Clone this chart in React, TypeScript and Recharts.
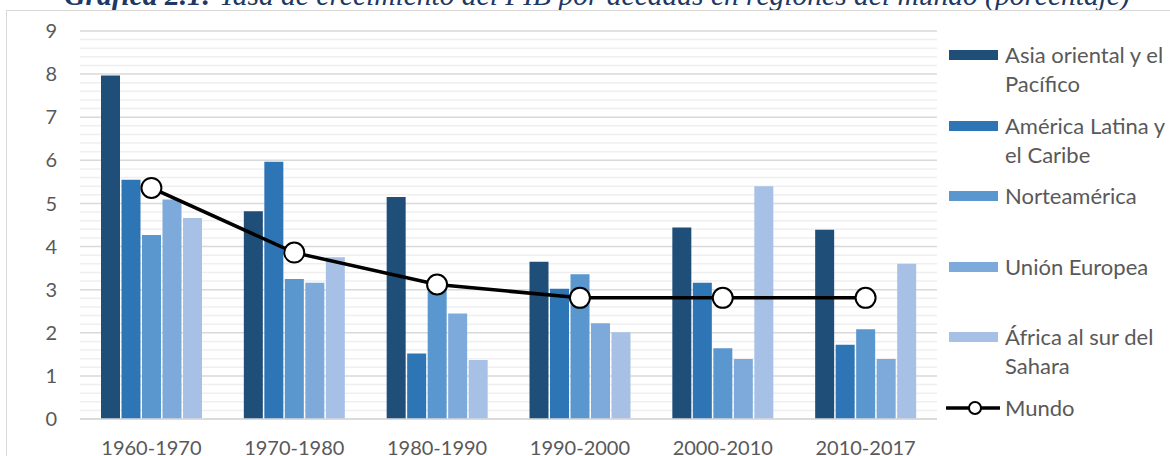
import React from 'react';
import { ComposedChart, Bar, Line, XAxis, YAxis, CartesianGrid } from 'recharts';

const decades = ['1960-1970', '1970-1980', '1980-1990', '1990-2000', '2000-2010', '2010-2017'];
const asiaPacifico = [7.97, 4.82, 5.15, 3.65, 4.44, 4.39];
const americaLatina = [5.55, 5.97, 1.52, 3.02, 3.16, 1.72];
const norteamerica = [4.27, 3.25, 3.0, 3.36, 1.64, 2.08];
const unionEuropea = [5.09, 3.16, 2.45, 2.22, 1.39, 1.39];
const africaSur = [4.66, 3.75, 1.37, 2.01, 5.4, 3.6];
const mundo = [5.36, 3.86, 3.12, 2.81, 2.81, 2.81];
const yTicks = [0, 1, 2, 3, 4, 5, 6, 7, 8, 9];

const series = [
  { key: 'asia', name: 'Asia oriental y el Pacífico', lines: ['Asia oriental y el', 'Pacífico'], color: '#1F4E79', values: asiaPacifico },
  { key: 'alc', name: 'América Latina y el Caribe', lines: ['América Latina y', 'el Caribe'], color: '#2E75B6', values: americaLatina },
  { key: 'na', name: 'Norteamérica', lines: ['Norteamérica'], color: '#5B97CF', values: norteamerica },
  { key: 'ue', name: 'Unión Europea', lines: ['Unión Europea'], color: '#7EAADB', values: unionEuropea },
  { key: 'afr', name: 'África al sur del Sahara', lines: ['África al sur del', 'Sahara'], color: '#A6C1E5', values: africaSur },
];

const data = decades.map((d, i) => {
  const row: Record<string, string | number> = { decade: d, mundo: mundo[i] };
  series.forEach(s => { row[s.key] = s.values[i]; });
  return row;
});

// minor gridlines every 0.2
const minorTicks: number[] = [];
for (let i = 1; i < 45; i++) {
  if (i % 5 !== 0) minorTicks.push(i / 5);
}

const FONT = 'Lato, "Open Sans", sans-serif';

export default function App() {
  return (
    <div style={{ position: 'absolute', left: 0, top: 0, width: 1170, height: 456, overflow: 'hidden', background: '#fff', fontFamily: FONT }}>
      <svg width={1170} height={20} style={{ position: 'absolute', left: 0, top: 0 }}>
        <text x={597} y={5} textAnchor="middle" fill="#203864" fontFamily='"Liberation Serif", serif' fontStyle="italic" fontSize={29.5}>
          <tspan fontWeight="bold">Gráfica 2.1:</tspan> Tasa de crecimiento del PIB por décadas en regiones del mundo (porcentaje)
        </text>
      </svg>
      <div style={{ position: 'absolute', left: 6, top: 10, width: 1300, height: 600, border: '1px solid #d9d9d9' }} />
      <div style={{ position: 'absolute', left: 0, top: 0 }}>
        <ComposedChart width={1170} height={456} data={data} margin={{ top: 31, right: 233, bottom: 7, left: 20 }} barGap={1.5} barCategoryGap="15%">
          <CartesianGrid vertical={false} horizontalValues={minorTicks} stroke="#efefef" strokeWidth={1.5} />
          <CartesianGrid vertical={false} stroke="#d9d9d9" strokeWidth={1.5} />
          <XAxis dataKey="decade" tickLine={false} axisLine={{ stroke: '#d9d9d9', strokeWidth: 1.5 }} height={30} tickMargin={16}
            tick={{ fill: '#595959', fontSize: 20, fontFamily: FONT }} interval={0} />
          <YAxis domain={[0, 9]} ticks={yTicks} tickLine={false} axisLine={false} width={60} tickMargin={17}
            tick={{ fill: '#595959', fontSize: 20, fontFamily: FONT }} interval={0} />
          {series.map(s => (
            <Bar key={s.key} dataKey={s.key} name={s.name} fill={s.color} barSize={19} isAnimationActive={false} />
          ))}
          <Line dataKey="mundo" name="Mundo" stroke="#000" strokeWidth={3.5} isAnimationActive={false}
            dot={{ r: 10, fill: '#fff', stroke: '#000', strokeWidth: 2 }} activeDot={false} />
        </ComposedChart>
      </div>
      {series.map((s, i) => (
        <div key={s.key} style={{ position: 'absolute', left: 949, top: 55 + i * 70.6 - 15, display: 'flex', alignItems: 'flex-start' }}>
          <div style={{ width: 49, height: 10, background: s.color, marginTop: 10, marginRight: 7 }} />
          <div style={{ color: '#595959', fontSize: 22, lineHeight: '29px', whiteSpace: 'nowrap' }}>
            {s.lines.map(l => <div key={l}>{l}</div>)}
          </div>
        </div>
      ))}
      <div style={{ position: 'absolute', left: 946, top: 408 - 15, display: 'flex', alignItems: 'flex-start' }}>
        <svg width={56} height={30} style={{ marginRight: 3 }}>
          <line x1={0} y1={15} x2={54} y2={15} stroke="#000" strokeWidth={3.5} />
          <circle cx={29} cy={15} r={6} fill="#fff" stroke="#000" strokeWidth={2} />
        </svg>
        <div style={{ color: '#595959', fontSize: 22, lineHeight: '29px' }}>Mundo</div>
      </div>
    </div>
  );
}
